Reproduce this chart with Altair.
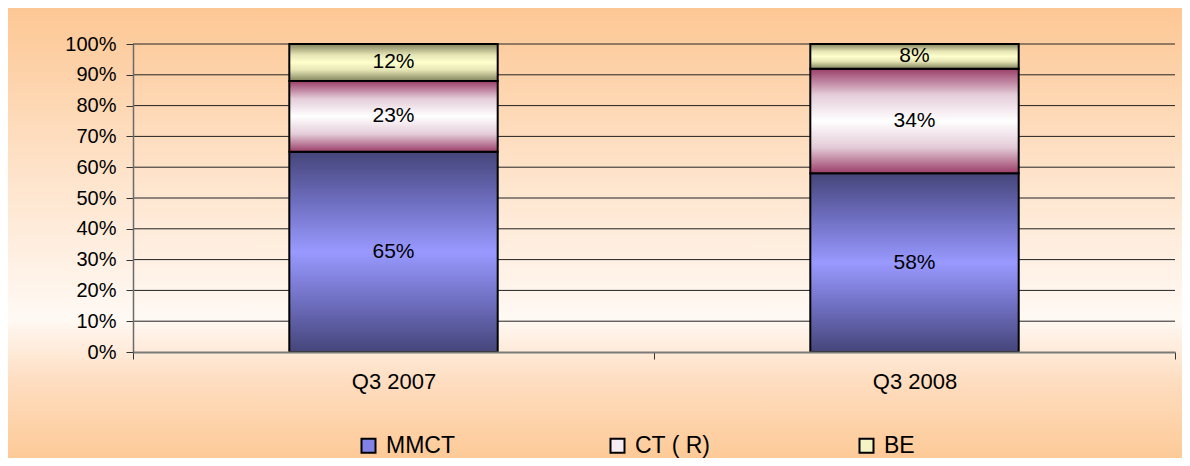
import altair as alt
import pandas as pd

# ---- data ----
quarters = ["Q3 2007", "Q3 2008"]
series = ["MMCT", "CT ( R)", "BE"]
mmct = [65, 58]
ct = [23, 34]
be = [12, 8]
y_ticks = [0, 10, 20, 30, 40, 50, 60, 70, 80, 90, 100]

rows = []
for i, q in enumerate(quarters):
    for k, (s, vals) in enumerate(zip(series, [mmct, ct, be])):
        rows.append({"quarter": q, "series": s, "value": vals[i], "order": k})
df = pd.DataFrame(rows)
grid_df = pd.DataFrame({"t": y_ticks[1:]})
bg_df = pd.DataFrame({"a": [0]})

W, H = 1042, 308
PAD = {"left": 125, "top": 36, "right": 7, "bottom": 106}
FONT = "Liberation Sans"


def grad(stops):
    return alt.Gradient(
        gradient="linear", x1=0, y1=0, x2=0, y2=1,
        stops=[alt.GradientStop(offset=o, color=c) for o, c in stops],
    )


fills = {
    "MMCT": grad([(0, "#45457A"), (0.25, "#6E6EC0"), (0.5, "#9999FF"), (0.75, "#6E6EC0"), (1, "#45457A")]),
    "CT ( R)": grad([(0, "#9A3D68"), (0.25, "#E4CCD8"), (0.5, "#FFFFFF"), (0.75, "#E4CCD8"), (1, "#9A3D68")]),
    "BE": grad([(0, "#84845E"), (0.3, "#E6E6B6"), (0.5, "#FFFFCC"), (0.7, "#E6E6B6"), (1, "#84845E")]),
}
legend_colors = ["#8282E6", "#F6ECF2", "#F4F4C4"]

xscale = alt.Scale(domain=quarters, paddingInner=0, paddingOuter=0)
yscale = alt.Scale(domain=[0, 100], nice=False)

xaxis = alt.Axis(
    title=None, labelAngle=0, tickBand="extent", labelFontSize=22, labelFont=FONT,
    labelColor="black", tickSize=7, tickColor="#333333", domainColor="#7a7a7a",
    domainWidth=2, labelPadding=12, grid=False, zindex=1,
)
yaxis = alt.Axis(
    title=None, values=y_ticks, labelExpr="datum.value + '%'", labelFontSize=20,
    labelFont=FONT, labelColor="black", tickSize=7, tickColor="#333333",
    domainColor="#6b6b6b", domainWidth=1.5, labelPadding=10, grid=False, zindex=1,
)

background = alt.Chart(bg_df).mark_rect(
    fill=grad([(0, "#FDC794"), (0.35, "#FEE2C8"), (0.69, "#FFF9F4"), (0.83, "#FEDDC0"), (1, "#FDCA97")])
).encode(
    x=alt.value(-PAD["left"]), x2=alt.value(W + PAD["right"]),
    y=alt.value(-PAD["top"]), y2=alt.value(H + PAD["bottom"]),
)

gridlines = alt.Chart(grid_df).mark_rule(color="#222222", strokeWidth=1).encode(
    y=alt.Y("t:Q", scale=yscale, axis=yaxis),
    x=alt.value(0), x2=alt.value(W),
)

base = alt.Chart(df).transform_stack(
    stack="value", groupby=["quarter"], as_=["y0", "y1"],
    sort=[alt.SortField("order", order="ascending")],
)

legend_layer = base.mark_bar(
    width=alt.RelativeBandSize(0.4), stroke="black", strokeWidth=2
).encode(
    x=alt.X("quarter:N", scale=xscale, axis=xaxis),
    y=alt.Y(datum=0, scale=yscale, axis=yaxis), y2=alt.datum(0),
    fill=alt.Fill(
        "series:N",
        scale=alt.Scale(domain=series, range=legend_colors),
        legend=alt.Legend(
            title=None, orient="none", legendX=224, legendY=390, direction="horizontal",
            columns=3, gridAlign="all", columnPadding=144, symbolType="square",
            symbolSize=196, symbolStrokeColor="black", symbolStrokeWidth=2,
            labelFontSize=23, labelFont=FONT, labelColor="black", labelOffset=6,
            padding=0,
        ),
    ),
)

bar_layers = []
for s in series:
    bar_layers.append(
        base.transform_filter(alt.datum.series == s).mark_bar(
            fill=fills[s], stroke="black", strokeWidth=2, width=alt.RelativeBandSize(0.4)
        ).encode(
            x=alt.X("quarter:N", scale=xscale, axis=xaxis),
            y=alt.Y("y0:Q", scale=yscale, axis=yaxis),
            y2="y1:Q",
        )
    )

labels = base.transform_calculate(
    mid="(datum.y0 + datum.y1) / 2", lab="datum.value + '%'"
).mark_text(fontSize=21, font=FONT, color="black", baseline="middle").encode(
    x=alt.X("quarter:N", scale=xscale, axis=xaxis),
    y=alt.Y("mid:Q", scale=yscale, axis=yaxis),
    text="lab:N",
)

chart = alt.layer(background, gridlines, legend_layer, *bar_layers, labels).properties(
    width=W, height=H, padding=PAD, autosize=alt.AutoSizeParams(type="none"),
    background="#FDD9B6",
).configure_view(stroke=None)

chart.save("out.html", embed_options={"renderer": "svg", "actions": False})
